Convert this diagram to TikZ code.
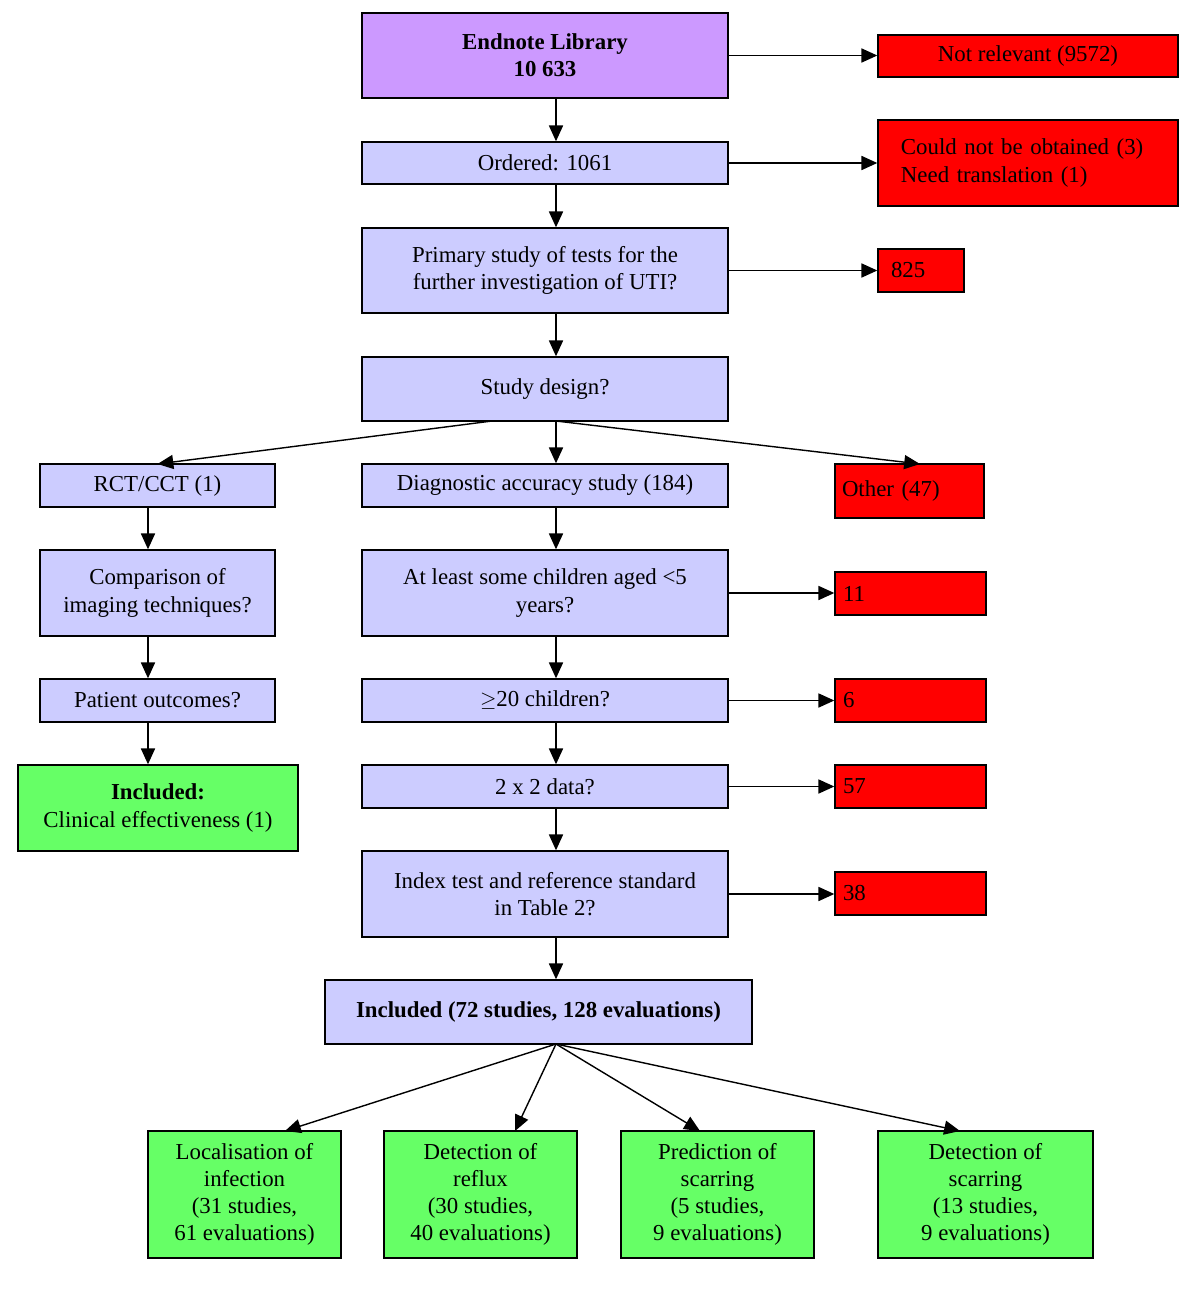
\documentclass[tikz,border=0pt]{standalone}
\usepackage{fontspec}
\setmainfont{Liberation Serif}
\usetikzlibrary{arrows.meta}
\definecolor{lav}{HTML}{CCCCFF}
\definecolor{pur}{HTML}{CC99FF}
\definecolor{grn}{HTML}{66FF66}
\definecolor{rd}{HTML}{FF0000}
\newcommand\bx[7]{\node[draw=black,line width=0.8pt,inner sep=2pt,#6,minimum width={(#4-#2)*0.02cm},minimum height={(#5-#3)*0.02cm}] (#1) at ({(#2+#4)/2},{(#3+#5)/2}) {#7};}
\begin{document}
\begin{tikzpicture}[x=0.02cm,y=-0.02cm,font=\fontsize{13pt}{15.5pt}\selectfont,
 lv/.style={fill=lav,align=center},
 gn/.style={fill=grn,align=center},
 rb/.style={fill=rd,align=left},
 ar/.style={-{Triangle[length=9pt,width=8pt]},line width=0.8pt}]
\useasboundingbox (0,0) rectangle (1200,1295);
\coordinate (sp) at (556,0);
\coordinate (lsp) at (148,0);
\bx{en}{362}{13}{728}{98}{fill=pur,align=center}{\textbf{Endnote Library}\\\textbf{10 633}}
\bx{nr}{878}{35}{1178}{77}{rb}{Not relevant (9572)}
\bx{or}{362}{142}{728}{184}{lv}{Ordered: 1061}
\bx{cn}{878}{120}{1178}{206}{rb,text width=255pt*0.02/0.0352778}{Could not be obtained (3)\\Need translation (1)}
\bx{pr}{362}{228}{728}{313}{lv}{Primary study of tests for the\\further investigation of UTI?}
\bx{r825}{878}{249}{964}{292}{rb,text width=60*0.02cm}{825}
\bx{sd}{362}{357}{728}{421}{lv}{Study design?}
\bx{rct}{40}{464}{275}{507}{lv}{RCT/CCT (1)}
\bx{da}{362}{464}{728}{507}{lv}{Diagnostic accuracy study (184)}
\bx{ot}{835}{464}{984}{518}{rb,text width=135*0.02cm}{Other (47)}
\bx{cmp}{40}{550}{275}{636}{lv}{Comparison of\\imaging techniques?}
\bx{al}{362}{550}{728}{636}{lv}{At least some children aged <5\\years?}
\bx{r11}{835}{572}{986}{615}{rb,text width=135*0.02cm}{11}
\bx{po}{40}{679}{275}{722}{lv}{Patient outcomes?}
\bx{ch}{362}{679}{728}{722}{lv}{$\geq$20 children?}
\bx{r6}{835}{679}{986}{722}{rb,text width=135*0.02cm}{6}
\bx{ic}{18}{765}{298}{851}{gn}{\textbf{Included:}\\Clinical effectiveness (1)}
\bx{tt}{362}{765}{728}{808}{lv}{2 x 2 data?}
\bx{r57}{835}{765}{986}{808}{rb,text width=135*0.02cm}{57}
\bx{ix}{362}{851}{728}{937}{lv}{Index test and reference standard\\in Table 2?}
\bx{r38}{835}{872}{986}{915}{rb,text width=135*0.02cm}{38}
\bx{inc}{325}{980}{752}{1044}{lv}{\textbf{Included (72 studies, 128 evaluations)}}
\bx{b1}{148}{1131}{341}{1258}{gn}{Localisation of\\infection\\(31 studies,\\61 evaluations)}
\bx{b2}{384}{1131}{577}{1258}{gn}{Detection of\\reflux\\(30 studies,\\40 evaluations)}
\bx{b3}{621}{1131}{814}{1258}{gn}{Prediction of\\scarring\\(5 studies,\\9 evaluations)}
\bx{b4}{878}{1131}{1093}{1258}{gn}{Detection of\\scarring\\(13 studies,\\9 evaluations)}
% vertical spine
\foreach \a/\b in {en/or,or/pr,pr/sd,da/al,al/ch,ch/tt,tt/ix,ix/inc}
  \draw[ar] (\a.south -| sp) -- (\b.north -| sp);
\foreach \a/\b in {rct/cmp,cmp/po,po/ic}
  \draw[ar] (\a.south -| lsp) -- (\b.north -| lsp);
% horizontal
\foreach \a/\b in {en/nr,or/cn,pr/r825,al/r11,ch/r6,tt/r57,ix/r38}
  \draw[ar] (\a.east) -- (\a.east -| \b.west);
% splits
\coordinate (sdl) at (492,421);
\coordinate (sdm) at (556,421);
\draw[ar] (sdl) -- (180,464 -| rct.north);
\draw[ar] (sdm) -- (da.north -| sp);
\coordinate (otn) at (920,464);
\draw[ar] (sdm) -- (otn);
\coordinate (ib) at (556,1044);
\coordinate (t1) at (285,1131);
\coordinate (t2) at (515,1131);
\coordinate (t3) at (700,1131);
\coordinate (t4) at (960,1131);
\foreach \t in {t1,t2,t3,t4} \draw[ar] (ib) -- (\t);
\end{tikzpicture}
\end{document}
